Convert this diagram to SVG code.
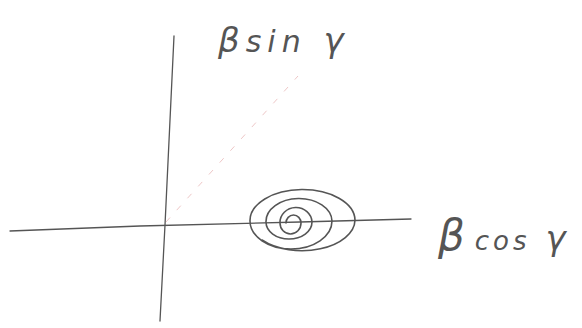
<svg xmlns="http://www.w3.org/2000/svg" width="582" height="328" viewBox="0 0 582 328">
<style>
.ax{fill:none;stroke:#555;stroke-width:1.3;stroke-linecap:round}
.sp{fill:none;stroke:#555;stroke-width:1.6;stroke-linecap:round}
.lbl{font-family:"DejaVu Sans",sans-serif;font-style:italic;fill:#555;font-size:34px}
</style>
<rect width="582" height="328" fill="#fff"/>
<g id="connectors">
<path class="ax" d="M174,36 L170,120 L165,225 L160,321"/>
<path class="ax" d="M10,231 L140,226 L300,222 L411,219"/>
<path d="M166,222 L298,76" fill="none" stroke="#e8b8b8" stroke-width="1" stroke-dasharray="6 10" opacity="0.8"/>
</g>
<g id="spiral">
<path class="sp" d="M286,223 A7.5 8 0 0 1 301,223 A10.5 11 0 0 1 280,223 A16 15 0 0 1 312,222 A23 17 0 0 1 266,222 A33 23 0 0 1 332,221 A41 28 0 0 1 250,221 A52.5 31 0 0 1 355,220 A53 31 0 0 1 262,240"/>
</g>
<g id="label-y">
<text class="lbl" x="218" y="52" letter-spacing="6">β<tspan font-size="30">sin</tspan> γ</text>
</g>
<g id="label-x">
<text class="lbl" x="438" y="250" letter-spacing="4"><tspan font-size="42">β</tspan><tspan font-size="26" dx="6">cos</tspan> <tspan font-size="34">γ</tspan></text>
</g>
</svg>
